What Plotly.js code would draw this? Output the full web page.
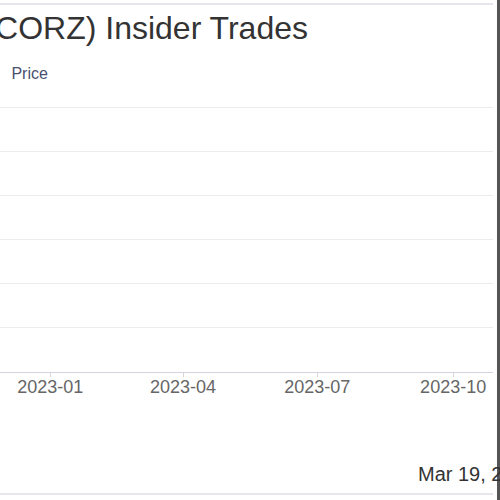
<!DOCTYPE html>
<html>
<head>
<meta charset="utf-8">
<script src="https://cdn.plot.ly/plotly-3.0.1.min.js"></script>
<style>
  html, body { margin: 0; padding: 0; background: #fff; }
  #chart { width: 500px; height: 500px; }
</style>
</head>
<body>
<div id="chart"></div>
<script>
(function () {
  'use strict';

  // Price series: no price is drawn inside this view
  var priceDates = ['2023-01-01'];
  var priceValues = [null];

  var xRange = ['2022-11-28', '2023-10-28'];
  var tickDates = ['2023-01-01', '2023-04-01', '2023-07-01', '2023-10-01'];
  var tickLabels = ['2023-01', '2023-04', '2023-07', '2023-10'];
  var yRange = [0, 6.18];

  var titleText = 'Core Scientific (CORZ) Insider Trades';
  var stampText = 'Mar 19, 2024';

  var blue = '#5b8fd6';
  var grid = '#ebebf0';
  var axis = '#d3d5de';
  var font = 'Liberation Sans, Arial, sans-serif';

  var trace = {
    type: 'scatter',
    mode: 'markers',
    name: 'Price',
    x: priceDates,
    y: priceValues,
    marker: { color: blue, size: 16 },
    showlegend: true
  };

  var layout = {
    width: 500,
    height: 500,
    margin: { l: 0, r: 7, t: 100, b: 128, autoexpand: false },
    paper_bgcolor: '#fff',
    plot_bgcolor: '#fff',
    font: { family: font, color: '#555' },
    title: {
      text: titleText,
      font: { family: font, size: 32, color: '#333' },
      xref: 'container', x: 308 / 500, xanchor: 'right',
      yref: 'container', y: 1 - 28 / 500, yanchor: 'middle'
    },
    showlegend: true,
    legend: {
      x: -0.058, xanchor: 'left',
      y: 1.099, yanchor: 'middle',
      orientation: 'h',
      bgcolor: 'rgba(0,0,0,0)',
      font: { family: font, size: 16, color: '#4a5070' }
    },
    xaxis: {
      type: 'date',
      range: xRange,
      tickvals: tickDates,
      ticktext: tickLabels,
      showgrid: false,
      showline: true,
      linecolor: axis,
      linewidth: 1,
      ticks: 'outside',
      ticklen: 4,
      tickcolor: axis,
      ticklabelstandoff: -6,
      tickfont: { family: font, size: 18, color: '#666' },
      zeroline: false,
      fixedrange: true
    },
    yaxis: {
      range: yRange,
      dtick: 1,
      showticklabels: false,
      gridcolor: grid,
      zeroline: false,
      fixedrange: true
    },
    shapes: [
      { type: 'line', xref: 'paper', yref: 'paper', x0: 0, x1: 1.0, y0: 1.353, y1: 1.353,
        line: { color: '#e6e6ec', width: 2 } },
      { type: 'line', xref: 'paper', yref: 'paper', x0: 0, x1: 1.0, y0: -0.4485, y1: -0.4485,
        line: { color: '#e6e6ec', width: 2 } },
      { type: 'rect', xref: 'paper', yref: 'paper', x0: 1.0081, x1: 1.02, y0: -0.5, y1: 1.4,
        fillcolor: '#555', line: { width: 0 } }
    ],
    annotations: [
      { text: stampText, xref: 'paper', yref: 'paper', x: 416 / 493, y: (372 - 474) / 272,
        xanchor: 'left', yanchor: 'middle', showarrow: false,
        font: { family: font, size: 20, color: '#333' } }
    ]
  };

  Plotly.newPlot('chart', [trace], layout, { displayModeBar: false, staticPlot: true });
})();
</script>
</body>
</html>
